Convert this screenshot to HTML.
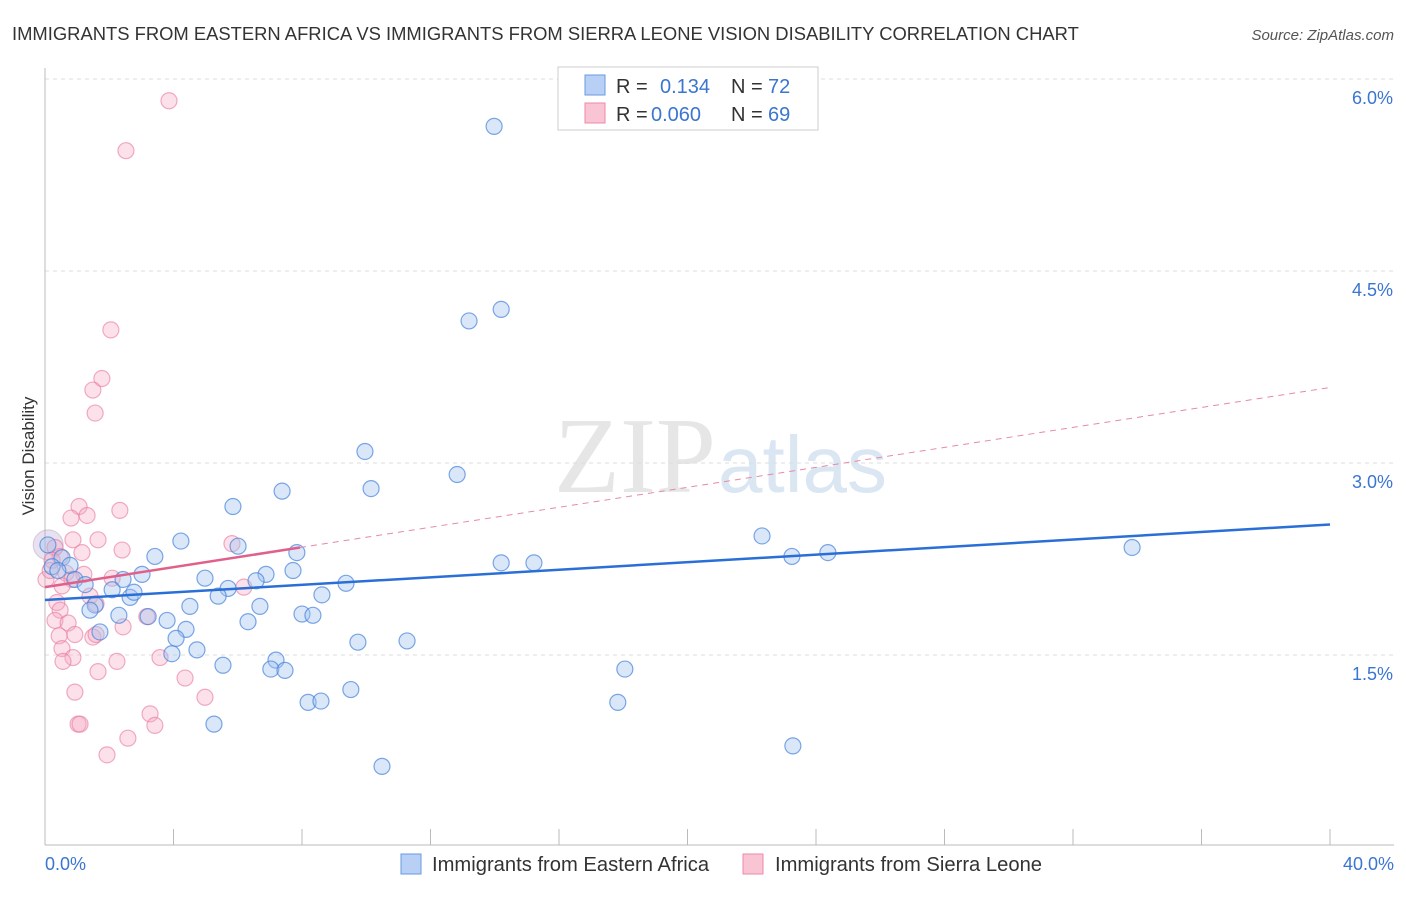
<!DOCTYPE html>
<html><head><meta charset="utf-8"><style>
body{margin:0;background:#fff;font-family:"Liberation Sans",sans-serif}
</style></head><body>
<svg width="1406" height="892" xmlns="http://www.w3.org/2000/svg" font-family="Liberation Sans, sans-serif">
<text x="12" y="40" font-size="18.4" fill="#333">IMMIGRANTS FROM EASTERN AFRICA VS IMMIGRANTS FROM SIERRA LEONE VISION DISABILITY CORRELATION CHART</text>
<text x="1394" y="40" font-size="15" fill="#555" text-anchor="end" font-style="italic">Source: ZipAtlas.com</text>
<text x="716" y="492" font-size="108" fill="#e6e6e6" text-anchor="end" font-family="Liberation Serif, serif">ZIP</text>
<text x="718" y="492" font-size="80" fill="#dbe6f3">atlas</text>
<g id="grid"></g>
<g id="axes"></g>
<g id="marks"></g>
<text transform="translate(34,456) rotate(-90)" font-size="17" fill="#333" text-anchor="middle">Vision Disability</text>
<g>
<rect x="558" y="67" width="260" height="63" fill="#fff" stroke="#ccc"/>
<rect x="585" y="75" width="20" height="20" fill="#b8d0f5" stroke="#6a9ae0"/>
<rect x="585" y="103" width="20" height="20" fill="#f9c4d3" stroke="#ec8aa8"/>
<text x="616" y="93" font-size="20" fill="#333">R = </text><text x="660" y="93" font-size="20" fill="#3a75d0">0.134</text>
<text x="731" y="93" font-size="20" fill="#333">N = </text><text x="768" y="93" font-size="20" fill="#3a75d0">72</text>
<text x="616" y="121" font-size="20" fill="#333">R = </text><text x="651" y="121" font-size="20" fill="#3a75d0">0.060</text>
<text x="731" y="121" font-size="20" fill="#333">N = </text><text x="768" y="121" font-size="20" fill="#3a75d0">69</text>
</g>
<g>
<rect x="401" y="854" width="20" height="20" fill="#b8d0f5" stroke="#6a9ae0"/>
<text x="432" y="871" font-size="20.2" fill="#333">Immigrants from Eastern Africa</text>
<rect x="743" y="854" width="20" height="20" fill="#f9c4d3" stroke="#ec8aa8"/>
<text x="775" y="871" font-size="20.2" fill="#333">Immigrants from Sierra Leone</text>
</g>
</svg>
<script>
const blueX=[13.98,13.2,14.2,9.96,12.83,10.15,7.38,5.85,6.01,4.23,3.42,7.84,7.72,14.2,15.22,22.32,23.25,24.37,33.84,0.53,0.78,0.22,0.93,1.25,2.43,3.02,4.98,6.88,6.57,9.37,8.62,5.7,2.09,2.65,2.77,4.51,5.39,6.69,8.0,8.34,6.32,3.21,3.8,2.3,1.56,4.39,4.08,1.71,3.95,4.73,5.54,7.19,7.03,7.47,9.74,11.27,18.05,17.83,9.52,8.19,8.59,5.26,10.49,23.28,0.09,0.4,1.4];
const blueY=[5.63,4.11,4.2,3.09,2.91,2.8,2.78,2.66,2.35,2.39,2.27,2.3,2.16,2.22,2.22,2.43,2.27,2.3,2.34,2.26,2.2,2.19,2.09,2.05,2.09,2.13,2.1,2.13,2.08,2.06,1.97,2.02,2.01,1.95,1.99,1.88,1.96,1.88,1.82,1.81,1.76,1.8,1.77,1.81,1.89,1.7,1.63,1.68,1.51,1.54,1.42,1.46,1.39,1.38,1.6,1.61,1.39,1.13,1.23,1.13,1.14,0.96,0.63,0.79,2.36,2.16,1.85];
const pinkX=[3.86,2.52,2.05,1.77,1.49,1.56,1.06,2.33,1.31,0.81,0.87,1.65,5.82,2.4,1.15,0.31,0.47,0.22,0.65,1.21,2.09,6.19,0.84,0.53,1.4,1.59,0.37,0.47,3.17,0.31,0.72,2.43,0.93,0.44,1.49,0.53,1.59,0.87,3.58,0.56,2.24,1.65,4.36,0.93,4.98,3.27,3.42,1.03,1.09,2.58,1.93,0.03,0.16];
const pinkY=[5.83,5.44,4.04,3.66,3.57,3.39,2.66,2.63,2.59,2.57,2.4,2.4,2.37,2.32,2.3,2.34,2.27,2.24,2.14,2.13,2.1,2.03,2.09,2.04,1.96,1.9,1.91,1.85,1.8,1.77,1.75,1.72,1.66,1.65,1.64,1.55,1.66,1.48,1.48,1.45,1.45,1.37,1.32,1.21,1.17,1.04,0.95,0.96,0.96,0.85,0.72,2.09,2.16];
const yTicks=[1.5,3.0,4.5,6.0];
const yTickLabels=["1.5%","3.0%","4.5%","6.0%"];
const blueTrend=[1.93,2.52];
const pinkTrend=[2.03,3.59];
const pinkSolidEnd=7.94;
const NS="http://www.w3.org/2000/svg";
const sx=v=>45+v/40*1285, sy=v=>847-v*128;
function mk(t,a,p){const e=document.createElementNS(NS,t);for(const k in a)e.setAttribute(k,a[k]);p.appendChild(e);return e;}
const grid=document.getElementById('grid'),axes=document.getElementById('axes'),marks=document.getElementById('marks');
yTicks.forEach((t,i)=>{
 const l=mk('line',{x1:45,x2:1394,y1:sy(t),y2:sy(t),stroke:'#ddd','stroke-dasharray':'4,4'},grid);
 
 
 const tx=mk('text',{x:1393,y:sy(t)+25,'font-size':18,fill:'#3a75d0','text-anchor':'end'},axes);
 tx.textContent=yTickLabels[i];
 
 
});
const ax=mk('line',{x1:45,x2:45,y1:68,y2:845,stroke:'#bbb'},axes);


const bx=mk('line',{x1:45,x2:1394,y1:845,y2:845,stroke:'#bbb'},axes);


for(let i=0;i<=10;i++){const t=mk('line',{x1:sx(i*4),x2:sx(i*4),y1:829,y2:845,stroke:'#bbb'},axes);
 
 }
[[0,'0.0%','start',45],[40,'40.0%','end',1394]].forEach(d=>{const t=mk('text',{x:d[3],y:870,'font-size':18,fill:'#3a75d0','text-anchor':d[2]},axes);t.textContent=d[1];
 
 });
const big=mk('circle',{cx:sx(0.1),cy:sy(2.36),r:15,fill:'rgba(190,170,210,0.35)',stroke:'rgba(180,160,200,0.5)'},marks);


pinkX.forEach((x,i)=>{const c=mk('circle',{cx:sx(x),cy:sy(pinkY[i]),r:8,fill:'rgba(246,170,195,0.35)',stroke:'rgba(232,120,155,0.6)','stroke-width':1.2},marks);
 
 });
blueX.forEach((x,i)=>{const c=mk('circle',{cx:sx(x),cy:sy(blueY[i]),r:8,fill:'rgba(160,195,240,0.4)',stroke:'rgba(70,130,220,0.7)','stroke-width':1.2},marks);
 
 });
const py=x=>pinkTrend[0]+(pinkTrend[1]-pinkTrend[0])*x/40;
const pd=mk('line',{x1:sx(pinkSolidEnd),y1:sy(py(pinkSolidEnd)),x2:sx(40),y2:sy(pinkTrend[1]),stroke:'#e58aa8','stroke-width':1,'stroke-dasharray':'6,5'},marks);


const ps=mk('line',{x1:sx(0),y1:sy(pinkTrend[0]),x2:sx(pinkSolidEnd),y2:sy(py(pinkSolidEnd)),stroke:'#e0608a','stroke-width':2.5},marks);


const bl=mk('line',{x1:sx(0),y1:sy(blueTrend[0]),x2:sx(40),y2:sy(blueTrend[1]),stroke:'#2a6fd6','stroke-width':2.5},marks);


</script>
</body></html>
